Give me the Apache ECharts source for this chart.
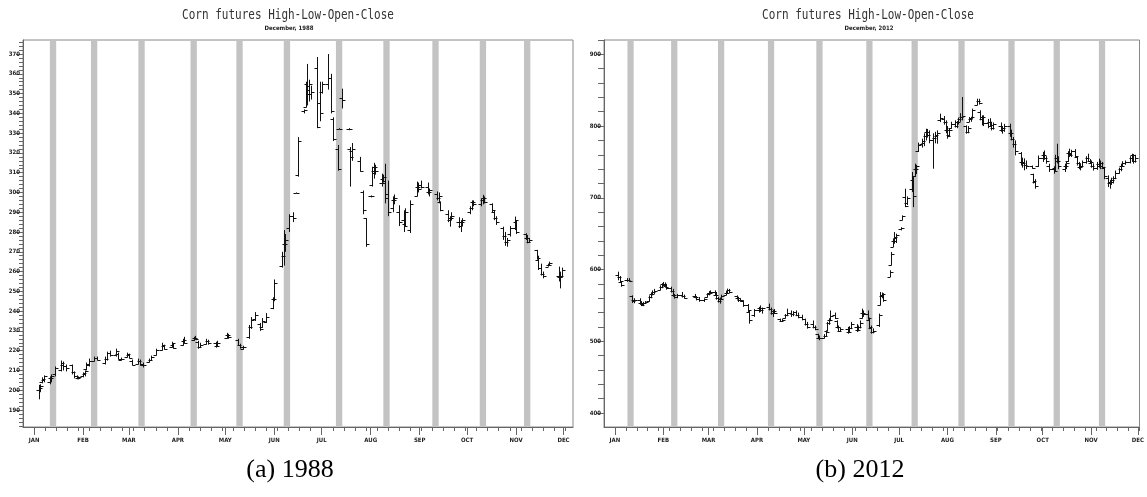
<!DOCTYPE html>
<html><head><meta charset="utf-8">
<script src="https://cdn.jsdelivr.net/npm/echarts@6/dist/echarts.min.js"></script>
<style>html,body{margin:0;padding:0;background:#fff}#c{width:1147px;height:497px}</style>
</head><body><div id="c"></div><script>
// ---------------- DATA ----------------
const yearA = 1988;
const yearB = 2012;
const titleText = 'Corn futures High-Low-Open-Close';
const subtitleA = 'December, 1988';
const subtitleB = 'December, 2012';
const captionA = '(a) 1988';
const captionB = '(b) 2012';
const monthNames = ['JAN','FEB','MAR','APR','MAY','JUN','JUL','AUG','SEP','OCT','NOV','DEC'];
const yLabelsA = [190,200,210,220,230,240,250,260,270,280,290,300,310,320,330,340,350,360,370];
const yLabelsB = [400,500,600,700,800,900];

// 1988 daily bars
const datesA = ['01-04','01-05','01-06','01-07','01-11','01-12','01-14','01-18','01-19','01-21','01-25','01-26','01-28','01-29',
'02-01','02-02','02-03','02-05','02-08','02-10','02-15','02-16','02-18','02-22','02-23','02-25','02-29',
'03-01','03-03','03-07','03-08','03-10','03-14','03-15','03-18','03-22','03-23','03-28','03-29',
'04-04','04-05','04-11','04-12','04-14','04-15','04-19','04-20','04-25','04-26',
'05-02','05-03','05-09','05-10','05-12','05-16','05-17','05-20','05-23','05-24','05-27','05-31',
'06-01','06-06','06-07','06-08','06-10','06-13','06-15','06-16','06-20','06-21','06-22','06-23','06-24','06-28','06-30',
'07-01','07-05','07-07','07-08','07-11','07-12','07-14','07-18','07-19','07-20','07-25','07-27','07-29',
'08-01','08-02','08-03','08-04','08-08','08-09','08-10','08-12','08-15','08-16','08-19','08-22','08-23','08-26','08-30','08-31',
'09-02','09-06','09-07','09-12','09-13','09-14','09-19','09-20','09-21','09-26','09-27','09-28',
'10-03','10-04','10-05','10-10','10-11','10-12','10-17','10-18','10-19','10-24','10-25','10-26','10-28','10-31',
'11-01','11-07','11-08','11-09','11-14','11-15','11-17','11-18','11-21','11-22','11-28','11-29','11-30'];
const openA = [200,200,204,205,204,206,208,210,213,212,212.5,209,207,206,
207,208,210.5,213,215,216.5,214,216,219,218,218.5,215.5,217,
218,215,213.5,215,213,214.5,215.5,218,220.5,222.5,222,223,
223,225,225.5,226.5,224.5,222,223.5,225,224,222.5,
226.5,228,225.5,223,221,227,232,236,233.5,232,234.5,241.5,
246,263,268,274,282,288,299.5,309,341,343,355,352,350,363,345,
351,355,358,337,322,332,348,332,322,321,316,300,287,
298,304,311,313,305,307,305,299,292,296,290,286,284,281,298,303,
304,303,300,299,297,295,289,286,287,285,283,285,
290,292,295,294,296,297,294,290,287,282,278,275,279,282,
285,279,277,275,271,266,262,259,262.5,263.5,258,257,258];
const highA = [202.7,203,206.5,207.5,207,208,212,215,214.5,213,213,209.5,207.5,207,
209,210,214,216,217,217,217,219.5,220,221,219,216.5,219,
218.5,215.5,216,215.5,214,216,217.5,221,224,223,224.5,223.5,
226,227,227,227.5,225,224,226,225.5,224.5,225,
229,228.5,226,223.5,222.5,233,237,239.5,234,236.5,239,247,
256,270,281,279,289,290,300,328,342,356,365,357,354,368.5,356,
356,370,360,338,324,332.5,352.5,332.5,323,325,318,301,287,
298.5,313,315,314,309.5,309,314.5,306,298,299,293.5,291,292,296,305.5,305,
306,305,302,300.5,300,295.5,291,288,290,287.5,286,287,
293,296,296,297,298.8,298,294.5,291,288,282.7,280,277,283,287.8,
286,279.4,278.5,277,271,268,264,260,264,265,262.5,260,262];
const lowA = [195.4,199,203.5,204,203,204,207,209.5,210,209.5,208,206,205.5,205.5,
206.5,207,210,212,214.5,215,213,215,217,217,215.5,215,216.5,
216,212.5,213,212.5,211.5,214,215,217.5,220,220.5,221.5,221,
222.5,223.5,225,225.5,221,221.5,223,223,221.5,222,
226,226,222.5,221,220.5,226,231,235,230,231.5,234,241,
245,262,263,270,280,285,299.5,308,340,343,344,346,347,332.5,336,
350,352,340,326,311,332,342.5,331.5,303,316,310.5,289,272.5,
297.5,303,307,309,303,305,294.5,288,290,294,283,280,283,279.5,298,300,
302,299,298,296,294.5,290.5,285,282.7,286,282,280,283,
289,291,293,293,294,294.5,290,286,283.6,276,273,272.6,277.7,281,
279,276,274.3,274.5,266,260.8,258,256.6,262.5,263,255,251.5,257];
const closeA = [201,202,205.5,207,206,207,211,214,212,211,209,207,206,206.5,
208.5,209.5,213.5,215,216.5,215.5,216,219,218,220,216,216,218.5,
216.5,213,215,213.5,212.5,215.5,217,220.5,223,221,224,221.5,
225.5,224,226.5,226,222,223,225,224,222.5,224,
228,227,223,222,222,232,235.5,238,231,235,237,246,
254,268,274,276,288,287,299.5,326,341.5,354,350,355,351,333,340,
355,358,341,327,312,332,347,332,318,322,311,291,274,
298,310,313,311,306,308,297,290,296,297,285,283,290,294,303,302,
303,300,301,297,298,291,286,287,288,283,285,286,
292,295,294,296,297,295,291,287,285,278,275,276,282,286,
280,277,275,276,267,262,259,258,263.5,264.5,257,258,261];

// 2012 daily bars
const datesB = ['01-03','01-04','01-05','01-09','01-10','01-12','01-13','01-17','01-18','01-19','01-20','01-23','01-24','01-25','01-26','01-30','01-31',
'02-01','02-02','02-03','02-06','02-07','02-08','02-10','02-13','02-14','02-21','02-22','02-24','02-27','02-29',
'03-01','03-02','03-05','03-06','03-07','03-08','03-09','03-12','03-13','03-14','03-19','03-20','03-21','03-23','03-26','03-27','03-30',
'04-02','04-03','04-04','04-09','04-10','04-11','04-12','04-16','04-17','04-19','04-20','04-23','04-24','04-26','04-27','04-30',
'05-02','05-03','05-07','05-08','05-10','05-11','05-14','05-15','05-16','05-17','05-18','05-21','05-22','05-23','05-24','05-29','05-30','05-31',
'06-04','06-05','06-06','06-07','06-08','06-11','06-12','06-13','06-14','06-18','06-19','06-20','06-21','06-25','06-26','06-27','06-28','06-29',
'07-02','07-03','07-05','07-06','07-09','07-10','07-11','07-12','07-13','07-16','07-17','07-18','07-19','07-20','07-23','07-24','07-25','07-27','07-30','07-31',
'08-01','08-02','08-03','08-06','08-07','08-08','08-09','08-10','08-13','08-14','08-15','08-16','08-17','08-20','08-21','08-22','08-23','08-24','08-27','08-28','08-29','08-30',
'09-04','09-05','09-06','09-10','09-11','09-12','09-13','09-17','09-18','09-19','09-20','09-24','09-25','09-26','09-28',
'10-01','10-02','10-03','10-05','10-08','10-09','10-10','10-11','10-15','10-16','10-17','10-18','10-19','10-22','10-23','10-24','10-25','10-26','10-29','10-30','10-31',
'11-01','11-02','11-05','11-06','11-07','11-08','11-09','11-12','11-13','11-14','11-15','11-16','11-19','11-20','11-21','11-23','11-26','11-27','11-28','11-29'];
const openB = [592,589,583,585,586,563,557,557,553,552,553,556,562,566,569,572,576,
580,579,577,574,570,564,562,564,563,563,562,559,557,562,
566,568,569,565,560,556,559,564,568,571,563,560,557,556,550,541,536,
543,546,544,548,545,540,542,531,528,532,537,540,538,541,537,534,
531,524,524,520,510,505,505,508,515,525,530,536,528,520,515,517,513,519,
520,516,520,532,540,538,530,519,513,522,550,563,565,590,606,632,640,644,
657,669,701,693,712,725,731,740,765,775,776,786,792,788,780,784,786,808,810,805,
795,788,797,803,800,805,810,812,800,792,806,810,811,830,835,819,810,812,804,806,800,798,
800,795,797,800,790,782,775,762,750,748,746,745,733,722,745,
756,760,755,745,740,742,755,752,740,745,752,762,761,765,757,748,743,745,750,755,752,
748,745,742,747,745,748,742,728,720,722,725,728,735,740,745,749,750,756,760,752];
const highB = [597,591,584,588,588,564,560,560,556,555,556,564,568,571,573,578,581,
582.7,582,580,576,573,566,566,568.7,565,566,563,561.7,560,567,
570,571,571,568.7,562,561,565,570,573.4,573,564,562,560,557,552,543,545,
548,550,547,552.5,547,544,545,531.6,531,538,545.5,543,542,543,540,537,
531.6,527,529,522,510.6,508,510,515.3,527,532,543,540,529.2,522,519,520,521,527,
524,522,529,545.5,543,543,533,522,518,538.5,568.7,568,567,599,624.4,643,652.3,650,
659,675.5,712.7,702,736,730,747.6,746,777,782.4,790,796.3,796,794,790,792,794,817.3,814,808,
800,797,806,808,807,812,818,840.5,801,800,812.6,813,824.3,838.2,838,822,815,815,810,811,806,805,
805,800,803,803.3,795,784.7,780,763.8,756,755,752,745,733.6,726,759,
764,766,758,747.5,744,760,775.4,758,747.6,750,765,768.5,767,768,758,750,748,752,758,761.5,754,
752,748,750,754.5,752,750,743,731.3,725,728,730,738,742,747.6,751,752,758,761.5,761,760];
const lowB = [585,582,576,583,583,553.4,553,551,549,549,552.5,555,560,564,566,571,574,
577,575,572,568,562,559.4,560,561,559.4,560,557,555,554.8,561,
564,566,564,558,554,552.5,558,564,566,567,558,554.8,555,548,540,524.6,534,
540,541,538.5,543,537,533.9,538,527,527,531.6,535,534,535,535,532,529.2,
522,517.6,518,515.3,503,501.4,503.7,506,514,523,528,531,518,513,514,510.6,512,517,
513,514,518,531.6,534,530,517,510.6,511,520,550,560,555,589.6,605.8,631.4,636,637,
654.6,668.6,687,690,708,687,729,733,763.8,770,772,780,784,776,740.6,776,775.4,805.6,802,790,
782.4,785,796.3,798,797,802,806,808,789.4,790,805.6,806,810.3,828.9,830,808,801,800,797,799,794,795,
792,789.4,792,785,780,770,759.2,745,742,738.3,740,740.6,720,712.7,743,
750,753,747.5,736,733.6,736,748,740,736,740,750,757,757,756,745,740,738.3,744,747.6,750,748,
742,738,739,742,740,740,726,715,712.7,718,720,726,733.6,737,744,746,748,750,747.6,749];
const closeB = [590,584,578,586,584,556,558,553,551,554,555,562,566,569,570,576,580,
579,576,574,570,564,562,564,563,561,562,559,557,559,566,
568,569,565,560,556,559,563,568,571,569,560,557,558,550,543,530,543,
546,544,546,545,540,542,540,528,530,537,540,538,541,537,534,531,
524,520,520,517,505,504,508,513,525,530,535,533,520,515,517,513,519,524,
516,520,526,540,538,532,520,513,515,536,565,566,558,596,622,640,645,648,
658,674,689,700,730,702,740,744,774,779,786,792,788,780,784,788,790,811,806,795,
786,795,803,800,805,810,812,814,792,798,810,812,822,835,832,810,812,804,806,802,798,803,
795,797,800,790,782,775,765,750,748,746,744,742,723,716,756,
760,755,751,740,737,755,752,745,745,748,762,760,765,758,748,743,745,750,755,752,750,
745,742,747,745,748,743,730,720,722,725,727,735,740,744,749,750,755,760,752,756];

// grey bands (start dates, crop-report weeks)
const bandsA = ['01-11','02-06','03-07','04-09','05-08','06-07','07-10','08-09','09-09','10-09','11-06'];
const bandsB = ['01-09','02-06','03-07','04-08','05-09','06-10','07-09','08-08','09-09','10-08','11-06'];
const bandLengthDays = 4;

// ---------------- BUILD ----------------
const DAY = 864e5;
function ts(year, md) { const p = md.split('-'); return Date.UTC(year, +p[0] - 1, +p[1]); }

const axisGrey = '#666';
const labelStyle = { fontSize: 6, fontFamily: '"DejaVu Sans Condensed", "DejaVu Sans"', fontWeight: 'bold', color: '#222' };

function makeX(gi, year, minTs, maxTs) {
  const months = monthNames.map((_, m) => Date.UTC(year, m, 1));
  const weeks = [];
  for (let t = Date.UTC(year, 0, 1); t <= maxTs; t += 7 * DAY) weeks.push(t);
  return [
    { type: 'value', gridIndex: gi, min: minTs, max: maxTs, position: 'bottom',
      axisLine: { show: true, onZero: false, lineStyle: { color: axisGrey } },
      axisTick: { show: true, customValues: weeks, length: 4, lineStyle: { color: axisGrey } },
      axisLabel: { show: false }, splitLine: { show: false } },
    { type: 'value', gridIndex: gi, min: minTs, max: maxTs, position: 'bottom',
      axisLine: { show: false, onZero: false },
      axisTick: { show: true, customValues: months, length: 8, lineStyle: { color: axisGrey } },
      axisLabel: Object.assign({ show: true, customValues: months, margin: 10,
        formatter: v => monthNames[new Date(v).getUTCMonth()] }, labelStyle),
      splitLine: { show: false } }
  ];
}
function makeY(gi, min, max, minorStep, labels, minorLen, majorLen) {
  const minor = [];
  for (let v = Math.ceil(min / minorStep) * minorStep; v <= max; v += minorStep) minor.push(v);
  return [
    { type: 'value', gridIndex: gi, min, max, position: 'left',
      axisLine: { show: true, onZero: false, lineStyle: { color: axisGrey } },
      axisTick: { show: true, customValues: minor, length: minorLen, lineStyle: { color: axisGrey } },
      axisLabel: { show: false }, splitLine: { show: false } },
    { type: 'value', gridIndex: gi, min, max, position: 'left',
      axisLine: { show: false, onZero: false },
      axisTick: { show: true, customValues: labels, length: majorLen, lineStyle: { color: axisGrey } },
      axisLabel: Object.assign({ show: true, customValues: labels, margin: 3 }, labelStyle),
      splitLine: { show: false } }
  ];
}

function bandSeries(xi, yi, year, bands, yRef) {
  return {
    type: 'custom', xAxisIndex: xi, yAxisIndex: yi, silent: true, z: 1,
    data: bands.map(d => [ts(year, d), ts(year, d) + bandLengthDays * DAY]),
    encode: { x: [0, 1] },
    renderItem(params, api) {
      const cs = params.coordSys;
      const a = api.coord([api.value(0), yRef]);
      const b = api.coord([api.value(1), yRef]);
      return { type: 'rect', shape: { x: a[0], y: cs.y + 1, width: b[0] - a[0], height: cs.height - 1 },
               style: { fill: '#c3c3c3' } };
    }
  };
}
function hlocSeries(xi, yi, year, dates, o, h, l, c) {
  return {
    type: 'custom', xAxisIndex: xi, yAxisIndex: yi, z: 3,
    data: dates.map((d, i) => [ts(year, d), o[i], h[i], l[i], c[i]]),
    encode: { x: 0, y: [1, 2, 3, 4] },
    renderItem(params, api) {
      const x = api.value(0);
      const pO = api.coord([x, api.value(1)]);
      const pH = api.coord([x, api.value(2)]);
      const pL = api.coord([x, api.value(3)]);
      const pC = api.coord([x, api.value(4)]);
      const cx = Math.round(pH[0]) + 0.5;
      const yo = Math.round(pO[1]) + 0.5, yc = Math.round(pC[1]) + 0.5;
      const st = { stroke: '#111', lineWidth: 1 };
      return { type: 'group', children: [
        { type: 'line', shape: { x1: cx, y1: Math.min(pH[1], pL[1] - 1), x2: cx, y2: pL[1] }, style: st },
        { type: 'line', shape: { x1: cx - 3, y1: yo, x2: cx, y2: yo }, style: st },
        { type: 'line', shape: { x1: cx, y1: yc, x2: cx + 3, y2: yc }, style: st }
      ] };
    }
  };
}

const minA = Date.UTC(1987, 11, 25), maxA = Date.UTC(1988, 11, 7);
const minB = Date.UTC(2011, 11, 25), maxB = Date.UTC(2012, 11, 2);

function txt(x, y, text, font, fill, sx, sy) {
  return { type: 'text', x, y, scaleX: sx || 1, scaleY: sy || 1, silent: true,
    style: { text, font, fill, align: 'center', verticalAlign: 'middle', textAlign: 'center', textVerticalAlign: 'middle' } };
}

const option = {
  animation: false,
  backgroundColor: '#fff',
  grid: [
    { left: 23, top: 40, width: 550, height: 387, show: true, borderColor: '#888', borderWidth: 1, backgroundColor: 'transparent' },
    { left: 604, top: 40, width: 542, height: 387, show: true, borderColor: '#888', borderWidth: 1, backgroundColor: 'transparent' }
  ],
  xAxis: [].concat(makeX(0, yearA, minA, maxA), makeX(1, yearB, minB, maxB)),
  yAxis: [].concat(makeY(0, 181.4, 377.1, 2, yLabelsA, 4, 7), makeY(1, 380.5, 920, 20, yLabelsB, 6, 7)),
  series: [
    bandSeries(0, 0, yearA, bandsA, 250),
    hlocSeries(0, 0, yearA, datesA, openA, highA, lowA, closeA),
    bandSeries(2, 2, yearB, bandsB, 600),
    hlocSeries(2, 2, yearB, datesB, openB, highB, lowB, closeB)
  ],
  graphic: [
    txt(288, 15, titleText, '11px "DejaVu Sans Mono"', '#333', 1, 1.3),
    txt(289, 28, subtitleA, 'bold 6px "DejaVu Sans Condensed"', '#222'),
    txt(868, 15, titleText, '11px "DejaVu Sans Mono"', '#333', 1, 1.3),
    txt(869, 28, subtitleB, 'bold 6px "DejaVu Sans Condensed"', '#222'),
    txt(290, 470, captionA, '26px "Liberation Serif"', '#000'),
    txt(860, 470, captionB, '26px "Liberation Serif"', '#000')
  ]
};
const chart = echarts.init(document.getElementById('c'), null, { renderer: 'canvas' });
chart.setOption(option);
</script></body></html>
